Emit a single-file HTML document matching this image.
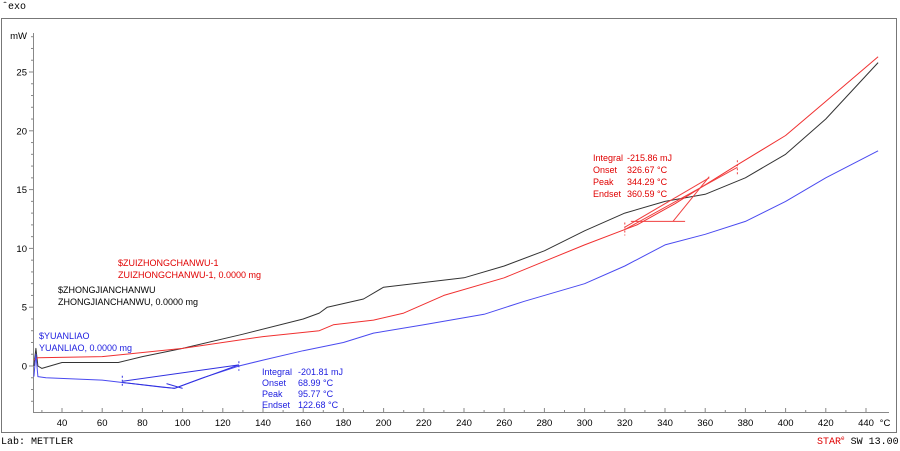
<!DOCTYPE html>
<html><head><meta charset="utf-8"><style>
body{margin:0;background:#fff}
svg{display:block;font-family:"Liberation Sans",sans-serif}
</style></head><body>
<svg width="900" height="451" viewBox="0 0 900 451">
<text x="2" y="9" font-family="Liberation Mono,monospace" font-size="10">ˆexo</text>
<rect x="1.5" y="18.5" width="895" height="414" fill="none" stroke="#777"/>
<g id="axes"></g>
<g id="series"></g>
<g id="ann"></g>
<g font-size="9" fill="#e00000"><text x="118" y="266">$ZUIZHONGCHANWU-1</text><text x="118" y="278">ZUIZHONGCHANWU-1, 0.0000 mg</text></g>
<g font-size="9" fill="#000"><text x="58" y="293">$ZHONGJIANCHANWU</text><text x="58" y="305">ZHONGJIANCHANWU, 0.0000 mg</text></g>
<g font-size="9" fill="#2020e0"><text x="39" y="339">$YUANLIAO</text><text x="39" y="351">YUANLIAO, 0.0000 mg</text></g>
<g font-size="9" fill="#2020e0">
<text x="262" y="375">Integral</text><text x="298" y="375">-201.81 mJ</text>
<text x="262" y="386">Onset</text><text x="298" y="386">68.99 °C</text>
<text x="262" y="397">Peak</text><text x="298" y="397">95.77 °C</text>
<text x="262" y="408">Endset</text><text x="298" y="408">122.68 °C</text></g>
<g font-size="9" fill="#e00000">
<text x="593" y="161">Integral</text><text x="627" y="161">-215.86 mJ</text>
<text x="593" y="173">Onset</text><text x="627" y="173">326.67 °C</text>
<text x="593" y="185">Peak</text><text x="627" y="185">344.29 °C</text>
<text x="593" y="197">Endset</text><text x="627" y="197">360.59 °C</text></g>
<text x="1" y="444" font-family="Liberation Mono,monospace" font-size="10">Lab: METTLER</text>
<text x="817" y="444" font-family="Liberation Mono,monospace" font-size="10"><tspan fill="#e00000">STAR</tspan><tspan font-size="6" dy="-4" fill="#e00000">e</tspan><tspan dy="4"> SW 13.00</tspan></text>
</svg>
<script>
const xTicks=[40,60,80,100,120,140,160,180,200,220,240,260,280,300,320,340,360,380,400,420,440];
const yTicks=[0,5,10,15,20,25];
const blackT=[26,27,28,30,40,68,80,100,130,160,168,172,190,200,240,260,280,300,320,340,360,380,400,420,446];
const blackV=[0,1.5,0,-0.2,0.3,0.3,0.8,1.5,2.7,4.0,4.5,5.0,5.7,6.7,7.5,8.5,9.8,11.5,13,14,14.6,16,18,21,25.8];
const redT=[26,28,60,100,140,168,175,195,210,230,260,280,300,326,345,375,400,420,446];
const redV=[0.5,0.7,0.8,1.5,2.5,3.0,3.5,3.9,4.5,6,7.5,8.9,10.3,12,13.8,17,19.6,22.5,26.3];
const blueT=[26,27,28,32,60,70,90,96,110,128,140,160,180,195,220,250,270,300,320,340,360,380,400,420,446];
const blueV=[-0.9,1.0,-0.9,-1.0,-1.2,-1.4,-1.8,-1.9,-1.0,0,0.5,1.3,2.0,2.8,3.5,4.4,5.5,7,8.5,10.3,11.2,12.3,14,16,18.3];
const NS='http://www.w3.org/2000/svg';
const X=t=>62+(t-40)*2.01, Y=v=>366-v*11.76;
function mk(tag,attrs,parent,txt){const e=document.createElementNS(NS,tag);for(const k in attrs)e.setAttribute(k,attrs[k]);if(txt!==undefined)e.textContent=txt;document.getElementById(parent).appendChild(e);return e;}
let e=mk('line',{x1:33.5,y1:33,x2:33.5,y2:412,stroke:'#888'},'axes');


e=mk('line',{x1:33,y1:412.5,x2:889,y2:412.5,stroke:'#888'},'axes');


for(let t=30;t<=445;t+=10){mk('line',{x1:X(t),y1:412,x2:X(t),y2:t%20==0?408:410,stroke:'#888'},'axes');}
xTicks.forEach(t=>{e=mk('text',{x:X(t),y:426,'font-size':9.5,'text-anchor':'middle'},'axes',t);

});
e=mk('text',{x:885,y:426,'font-size':9.5,'text-anchor':'middle'},'axes','°C');


for(let v=-3;v<=28;v++){if(Y(v)<33||Y(v)>410)continue;mk('line',{x1:v%5==0?29:31,y1:Y(v),x2:33,y2:Y(v),stroke:'#888'},'axes');}
yTicks.forEach(v=>{e=mk('text',{x:27,y:Y(v)+3.5,'font-size':9.5,'text-anchor':'end'},'axes',v);

});
e=mk('text',{x:27,y:39,'font-size':9.5,'text-anchor':'end'},'axes','mW');


function series(T,V,col,name){const d=T.map((t,i)=>(i?'L':'M')+X(t).toFixed(1)+','+Y(V[i]).toFixed(1)).join('');
const p=mk('path',{d:d,fill:'none',stroke:col,'stroke-width':1,'stroke-linejoin':'round'},'series');

}
series(blackT,blackV,'#333','zhongjianchanwu-curve');
series(redT,redV,'#f03030','zuizhongchanwu-curve');
series(blueT,blueV,'#4a4af0','yuanliao-curve');
function seg(a,b,c,d,col){mk('line',{x1:X(a),y1:Y(b),x2:X(c),y2:Y(d),stroke:col,'stroke-width':1},'ann');}
const B='#3030e0',R='#f04040';
seg(70,-1.3,128,0.1,B);seg(70,-1.4,96,-1.9,B);seg(96,-1.9,128,0.1,B);seg(92,-1.5,100,-1.9,B);
mk('line',{x1:X(70),y1:Y(-1)-2,x2:X(70),y2:Y(-1.7),stroke:B,'stroke-dasharray':'2,2'},'ann');
mk('line',{x1:X(128),y1:Y(0.4),x2:X(128),y2:Y(-0.4),stroke:B,'stroke-dasharray':'2,2'},'ann');
seg(320,11.6,376,16.9,R);seg(320,11.8,362,16,R);seg(323,12.3,350,12.3,R);seg(344,12.3,362,16.1,R);
mk('line',{x1:X(320),y1:Y(12.2),x2:X(320),y2:Y(11.1),stroke:R,'stroke-dasharray':'2,2'},'ann');
mk('line',{x1:X(376),y1:Y(17.5),x2:X(376),y2:Y(16.3),stroke:R,'stroke-dasharray':'2,2'},'ann');
</script>
</body></html>
